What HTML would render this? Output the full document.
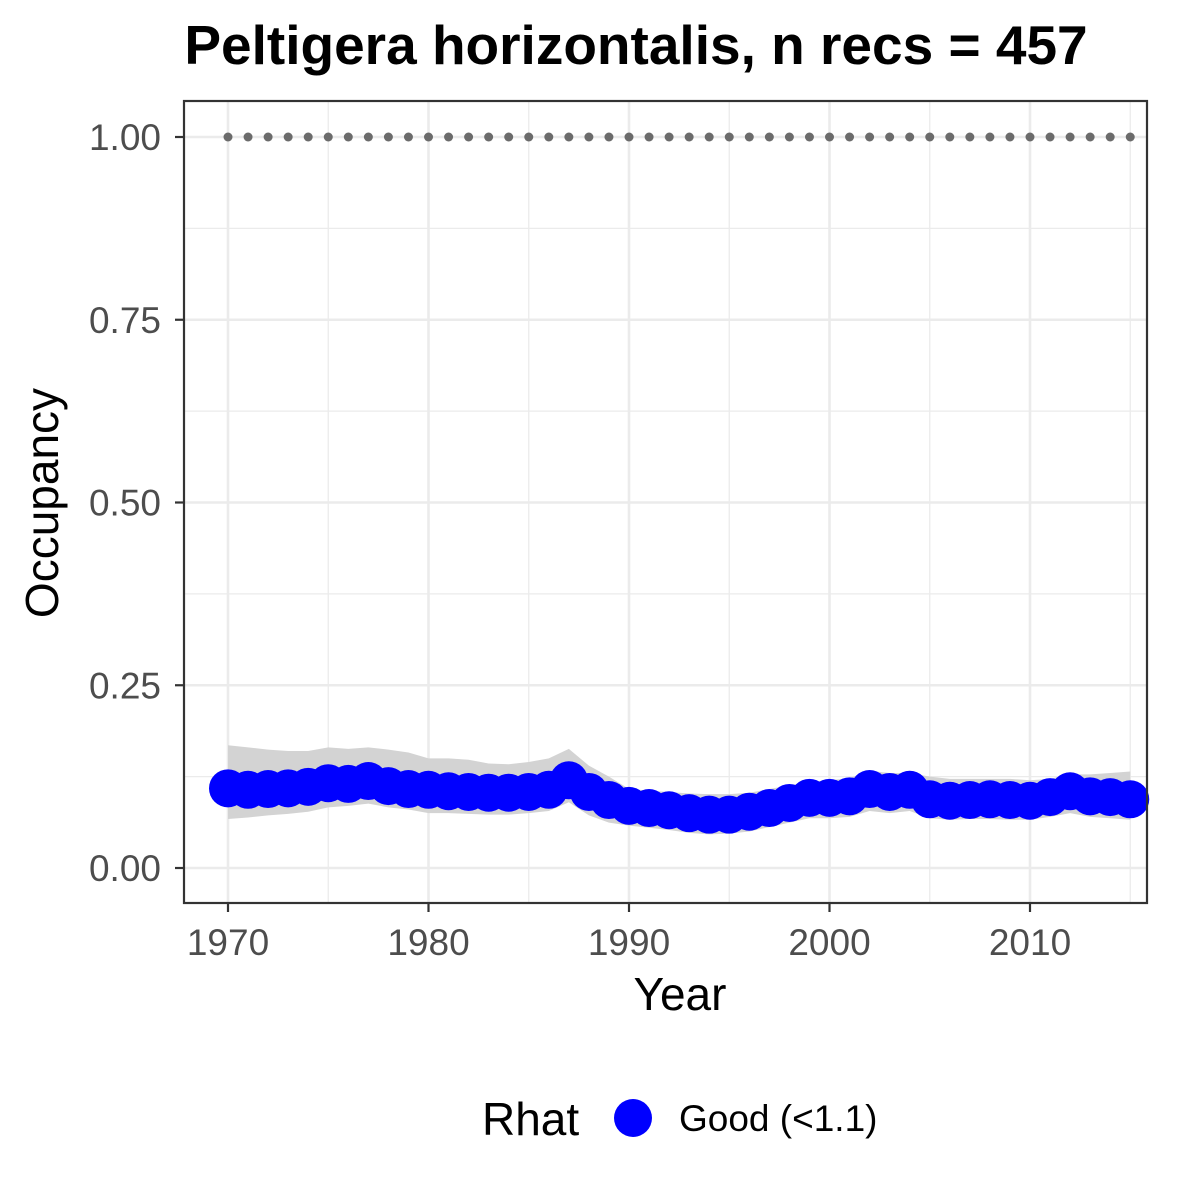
<!DOCTYPE html>
<html><head><meta charset="utf-8"><style>body{margin:0;background:#fff}svg{display:block;font-family:"Liberation Sans",Arial,sans-serif}</style></head>
<body>
<svg id="chart" width="1200" height="1200"></svg>
<script>
const years=[];for(let y=1970;y<=2015;y++)years.push(y);
const meanOcc=[.109,.107,.108,.109,.111,.116,.115,.119,.112,.108,.107,.105,.104,.103,.103,.104,.107,.120,.104,.093,.085,.082,.079,.075,.073,.073,.077,.082,.089,.096,.096,.098,.108,.104,.107,.094,.092,.093,.094,.093,.092,.097,.105,.098,.097,.094];
const upperCI=[.168,.165,.162,.160,.160,.165,.163,.165,.162,.158,.150,.150,.148,.143,.142,.145,.150,.163,.140,.125,.108,.106,.104,.102,.101,.101,.103,.108,.113,.118,.120,.123,.133,.130,.130,.125,.122,.122,.122,.122,.120,.122,.128,.128,.130,.132];
const lowerCI=[.067,.069,.072,.074,.077,.083,.085,.088,.083,.080,.075,.075,.074,.073,.073,.075,.078,.090,.072,.062,.058,.055,.052,.048,.046,.047,.050,.056,.062,.068,.068,.070,.078,.075,.078,.068,.066,.067,.067,.066,.066,.070,.075,.070,.068,.066];
const refLine=years.map(()=>1);
const xTicks=[1970,1980,1990,2000,2010];
const yTicks=[0,0.25,0.5,0.75,1];
const yTickLabels=["0.00","0.25","0.50","0.75","1.00"];

const NS="http://www.w3.org/2000/svg";
const svg=document.getElementById('chart');
const X=v=>228+(v-1970)*(1030-228)/40;
const Y=v=>868-v*731;
function mk(t,a,p){const e=document.createElementNS(NS,t);for(const k in a)e.setAttribute(k,a[k]);(p||svg).appendChild(e);return e;}
const L=184,R=1147,T=101,B=903;
for(let i=0;i<yTicks.length;i++){
 if(i<yTicks.length-1){const g=mk('line',{x1:L,x2:R,y1:Y((yTicks[i]+yTicks[i+1])/2),y2:Y((yTicks[i]+yTicks[i+1])/2),stroke:'#ebebeb','stroke-width':1.3});}
 const g=mk('line',{x1:L,x2:R,y1:Y(yTicks[i]),y2:Y(yTicks[i]),stroke:'#ebebeb','stroke-width':2.6});
 
}
for(let i=0;i<xTicks.length;i++){
 const m=mk('line',{x1:X(xTicks[i]+5),x2:X(xTicks[i]+5),y1:T,y2:B,stroke:'#ebebeb','stroke-width':1.3});
 
 const g=mk('line',{x1:X(xTicks[i]),x2:X(xTicks[i]),y1:T,y2:B,stroke:'#ebebeb','stroke-width':2.6});
 
}
let d='M'+years.map((y,i)=>X(y)+','+Y(upperCI[i])).join('L');
d+='L'+years.slice().reverse().map((y,j)=>{const i=years.length-1-j;return X(y)+','+Y(lowerCI[i]);}).join('L')+'Z';
const rib=mk('path',{d:d,fill:'#d3d3d3'});

years.forEach((y,i)=>{const c=mk('circle',{cx:X(y),cy:Y(refLine[i]),r:4.5,fill:'#6b6b6b'});
 });
years.forEach((y,i)=>{const c=mk('circle',{cx:X(y),cy:Y(meanOcc[i]),r:19,fill:'#0000ff'});
 });
const pb=mk('rect',{x:L,y:T,width:R-L,height:B-T,fill:'none',stroke:'#333','stroke-width':2.2});

yTicks.forEach((v,i)=>{mk('line',{x1:L-9,x2:L,y1:Y(v),y2:Y(v),stroke:'#333','stroke-width':2.2});
 const t=mk('text',{x:L-23,y:Y(v)+13,'text-anchor':'end','font-size':37,fill:'#4d4d4d'});t.textContent=yTickLabels[i];
 });
xTicks.forEach(v=>{mk('line',{x1:X(v),x2:X(v),y1:B,y2:B+9,stroke:'#333','stroke-width':2.2});
 const t=mk('text',{x:X(v),y:B+52,'text-anchor':'middle','font-size':37,fill:'#4d4d4d'});t.textContent=v;
 });
</script>
<svg width="1200" height="1200" style="position:absolute;left:0;top:0">
<text x="636" y="64" text-anchor="middle" font-size="55" font-weight="bold" fill="#000">Peltigera horizontalis, n recs = 457</text>
<text x="680" y="1010" text-anchor="middle" font-size="46" fill="#000">Year</text>
<text transform="translate(58,503) rotate(-90)" text-anchor="middle" font-size="46" fill="#000">Occupancy</text>
<text x="482" y="1135" font-size="46" fill="#000">Rhat</text>
<circle cx="633" cy="1118" r="19" fill="#0000ff"/>
<text x="679" y="1131" font-size="37" fill="#000">Good (&lt;1.1)</text>
</svg>
</body></html>
